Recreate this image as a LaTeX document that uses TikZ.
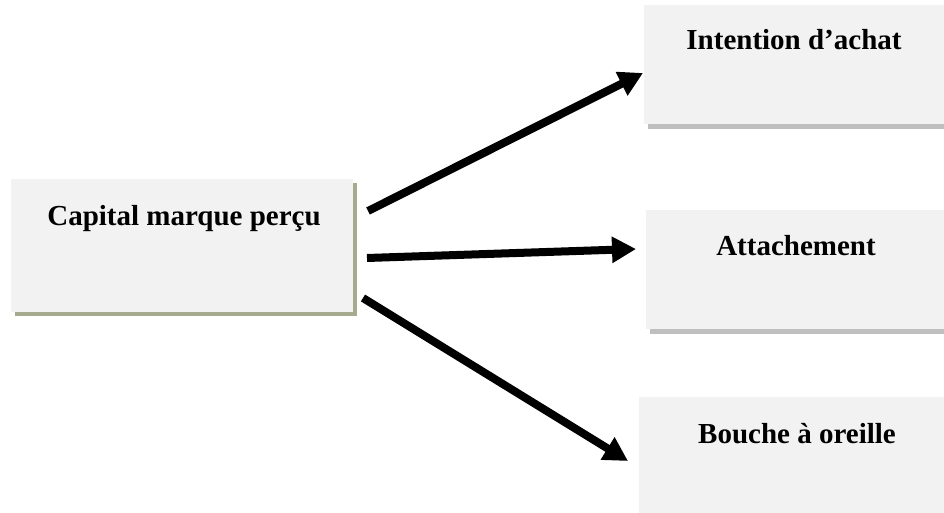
\documentclass[tikz,border=0pt]{standalone}
\usepackage{fontspec}
\setmainfont{Liberation Serif}
\usetikzlibrary{arrows.meta,shadows}
\definecolor{boxfill}{HTML}{F2F2F2}
\definecolor{shadowA}{HTML}{A6AB8F}
\definecolor{shadowB}{HTML}{BFBFBF}
\begin{document}
\begin{tikzpicture}[x=1pt,y=-1pt,
  boxbase/.style={fill=boxfill, draw=none, inner sep=0pt, anchor=north west},
  shadowolive/.style={drop shadow={shadow xshift=4pt, shadow yshift=-4pt, fill=shadowA, opacity=1}},
  shadowgray/.style={drop shadow={shadow xshift=4pt, shadow yshift=-5pt, fill=shadowB, opacity=1}},
  lbl/.style={font=\fontsize{29}{34}\selectfont\bfseries, anchor=base, inner sep=0pt},
  conn/.style={line width=8pt, -{Triangle[length=24pt,width=25pt]}}]
\useasboundingbox (0,0) rectangle (944,513);
\node[boxbase, shadowolive, minimum width=342pt, minimum height=133pt] (cmp) at (11,179) {};
\node[boxbase, shadowgray, minimum width=320pt, minimum height=119pt] (ia) at (644,5) {};
\node[boxbase, shadowgray, minimum width=320pt, minimum height=119pt] (att) at (646,210) {};
\node[boxbase, shadowgray, minimum width=320pt, minimum height=130pt] (bao) at (639,397) {};
\node[lbl] (tcmp) at (184,225) {Capital marque perçu};
\node[lbl] (tia) at (794,50) {Intention d’achat};
\node[lbl] (tatt) at (796,255) {Attachement};
\node[lbl] (tbao) at (797,443) {Bouche à oreille};
\coordinate (a1s) at (368,211);
\coordinate (a1e) at (643,73);
\coordinate (a2s) at (367,258);
\coordinate (a2e) at (636,249);
\coordinate (a3s) at (363,298);
\coordinate (a3e) at (628,461);
\draw[conn] (a1s) -- (a1e);
\draw[conn] (a2s) -- (a2e);
\draw[conn] (a3s) -- (a3e);
\end{tikzpicture}
\end{document}
